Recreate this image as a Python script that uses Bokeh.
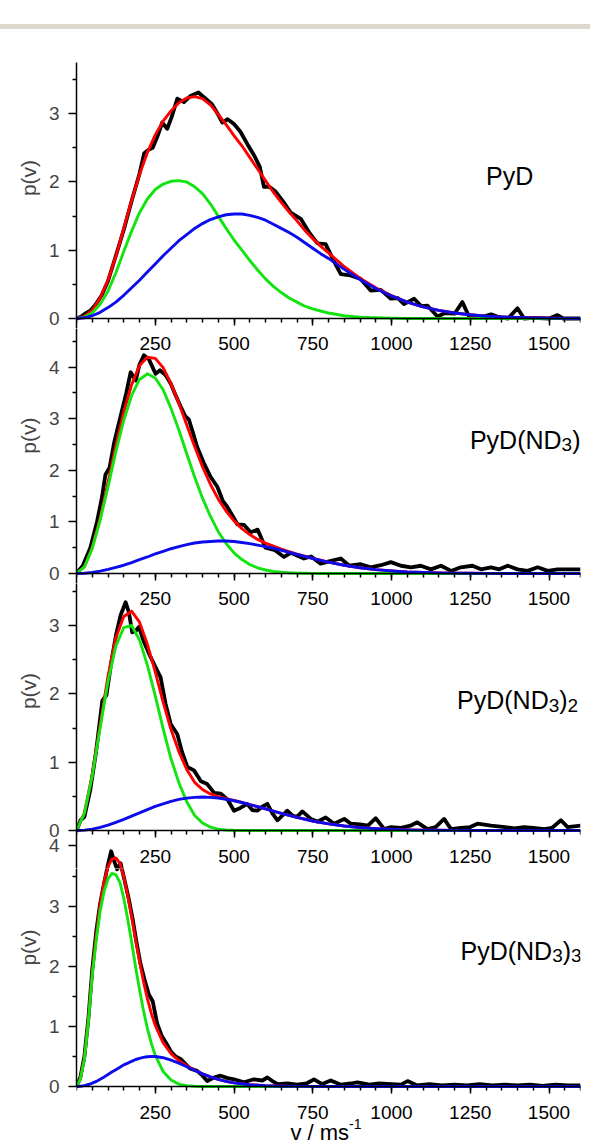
from bokeh.plotting import figure
from bokeh.models import Range1d, FixedTicker, LinearAxis, Label, Div
from bokeh.layouts import column
from bokeh.embed import file_html
from bokeh.resources import INLINE

FONT = "Liberation Sans"
BLACK = "#000000"
RED = "#ff0000"
GREEN = "#12e412"
BLUE = "#0b0bee"

# ---------------- tick values / labels ----------------
X_MAJOR = [250, 500, 750, 1000, 1250, 1500]
X_MINOR = [0, 50, 100, 150, 200, 250, 300, 350, 400, 450, 500, 550, 600, 650, 700, 750, 800,
           850, 900, 950, 1000, 1050, 1100, 1150, 1200, 1250, 1300, 1350, 1400, 1450, 1500, 1550, 1600]
Y_MAJOR = [[0, 1, 2, 3], [0, 1, 2, 3, 4], [0, 1, 2, 3], [0, 1, 2, 3]]
Y_MINOR = [[0.5, 1.5, 2.5, 3.5], [0.5, 1.5, 2.5, 3.5, 4.5], [0.5, 1.5, 2.5, 3.5], [0.5, 1.5, 2.5, 3.5]]
TOP4_LABEL = "4"          # the "4" of the last panel, printed in the strip of the panel above it
NAME_PARTS = [
    [("PyD", False)],
    [("PyD(ND", False), ("3", True), (")", False)],
    [("PyD(ND", False), ("3", True), (")", False), ("2", True)],
    [("PyD(ND", False), ("3", True), (")", False), ("3", True)],
]
X_TITLE = [("v / ms", False), ("-1", True)]
Y_TITLE = "p(v)"

# ---------------- panel 1 : PyD ----------------
fv1 = [0, 25, 50, 75, 100, 125, 150, 175, 200, 225, 250, 275, 300, 325, 350, 375, 400,
       425, 450, 475, 500, 525, 550, 575, 600, 625, 650, 675, 700, 725, 750, 775, 800,
       850, 900, 950, 1000, 1050, 1100, 1150, 1200, 1250, 1300, 1350, 1400, 1450, 1500, 1550, 1600]
green1 = [0, 0.02, 0.08, 0.21, 0.40, 0.67, 0.98, 1.28, 1.55, 1.75, 1.89, 1.97, 2.01, 2.02, 2.00, 1.93, 1.83,
          1.68, 1.50, 1.32, 1.15, 1.00, 0.85, 0.71, 0.58, 0.47, 0.38, 0.30, 0.24, 0.18, 0.14, 0.11, 0.08,
          0.04, 0.02, 0.01, 0.005, 0, 0, 0, 0, 0, 0, 0, 0, 0, 0, 0, 0]
blue1 = [0, 0.01, 0.04, 0.09, 0.16, 0.24, 0.34, 0.45, 0.56, 0.68, 0.80, 0.92, 1.03, 1.14, 1.23, 1.32, 1.39,
         1.45, 1.49, 1.52, 1.53, 1.53, 1.51, 1.48, 1.44, 1.38, 1.32, 1.26, 1.19, 1.11, 1.03, 0.95, 0.88,
         0.72, 0.57, 0.44, 0.33, 0.24, 0.17, 0.12, 0.08, 0.055, 0.035, 0.024, 0.015, 0.009, 0.005, 0.002, 0]
red1 = [0, 0.03, 0.12, 0.30, 0.56, 0.91, 1.32, 1.73, 2.11, 2.43, 2.69, 2.89, 3.04, 3.16, 3.23, 3.25, 3.22,
        3.13, 2.99, 2.84, 2.68, 2.53, 2.36, 2.19, 2.02, 1.85, 1.70, 1.56, 1.43, 1.29, 1.17, 1.06, 0.96,
        0.76, 0.59, 0.45, 0.335, 0.24, 0.17, 0.12, 0.08, 0.055, 0.035, 0.024, 0.015, 0.009, 0.005, 0.002, 0]
bx1 = [0, 15, 30, 45, 60, 80, 100, 125, 150, 175,
       200, 215, 228, 242, 258, 272, 288, 302, 320, 341,
       362, 387, 410, 430, 448, 463, 480, 500, 520, 543,
       565, 582, 595, 612, 632, 655, 680, 712, 740, 765,
       791, 815, 839, 870, 902, 934, 966, 998, 1020, 1040,
       1072, 1095, 1114, 1146, 1170, 1200, 1225, 1245, 1270, 1300,
       1316, 1340, 1370, 1400, 1421, 1450, 1500, 1527, 1545, 1600]
by1 = [0.0, 0.03, 0.08, 0.12, 0.20, 0.34, 0.55, 0.92, 1.30, 1.72,
       2.12, 2.42, 2.47, 2.50, 2.68, 2.87, 2.78, 2.95, 3.22, 3.17,
       3.26, 3.31, 3.22, 3.14, 3.00, 2.87, 2.92, 2.85, 2.74, 2.55,
       2.38, 2.22, 1.93, 1.93, 1.86, 1.72, 1.55, 1.46, 1.25, 1.10,
       1.09, 0.86, 0.65, 0.63, 0.58, 0.41, 0.42, 0.29, 0.30, 0.21,
       0.29, 0.18, 0.19, 0.03, 0.08, 0.07, 0.24, 0.04, 0.01, 0.04,
       0.06, 0.02, 0.0, 0.15, 0.0, 0.01, 0.0, 0.05, 0.0, 0.0]

# ---------------- panel 2 : PyD(ND3) ----------------
fv2 = fv1
green2 = [0, 0.126, 0.486, 1.03, 1.68, 2.36, 2.97, 3.45, 3.76, 3.87, 3.79, 3.56, 3.20, 2.78, 2.32, 1.87, 1.46,
          1.11, 0.81, 0.58, 0.40, 0.27, 0.174, 0.11, 0.068, 0.04, 0.024, 0.013, 0.007, 0.004, 0.002, 0.001, 0,
          0, 0, 0, 0, 0, 0, 0, 0, 0, 0, 0, 0, 0, 0, 0, 0]
blue2 = [0, 0.005, 0.02, 0.045, 0.08, 0.12, 0.16, 0.21, 0.27, 0.32, 0.38, 0.43, 0.48, 0.52, 0.56, 0.59, 0.61,
         0.62, 0.63, 0.63, 0.62, 0.60, 0.58, 0.55, 0.52, 0.49, 0.45, 0.41, 0.37, 0.33, 0.29, 0.255, 0.22,
         0.16, 0.11, 0.075, 0.05, 0.03, 0.02, 0.012, 0.007, 0.004, 0.002, 0.001, 0, 0, 0, 0, 0]
red2 = [0, 0.131, 0.506, 1.075, 1.76, 2.48, 3.13, 3.66, 4.03, 4.19, 4.17, 3.99, 3.68, 3.30, 2.88, 2.46, 2.07,
        1.73, 1.44, 1.21, 1.02, 0.87, 0.754, 0.66, 0.588, 0.53, 0.474, 0.423, 0.377, 0.334, 0.292, 0.256, 0.22,
        0.16, 0.11, 0.075, 0.05, 0.03, 0.02, 0.012, 0.007, 0.004, 0.002, 0.001, 0, 0, 0, 0, 0]
bx2 = [0, 20, 44, 65, 80, 92, 105, 120, 140, 158,
       172, 188, 200, 214, 230, 251, 265, 282, 299, 315,
       331, 345, 357, 370, 383, 405, 426, 447, 465, 479,
       500, 511, 532, 553, 575, 600, 630, 659, 680, 700,
       722, 745, 775, 805, 839, 866, 902, 934, 966, 998,
       1030, 1062, 1093, 1125, 1157, 1189, 1220, 1257, 1284, 1316,
       1342, 1369, 1400, 1432, 1464, 1496, 1527, 1559, 1600]
by2 = [0.0, 0.15, 0.50, 1.00, 1.45, 1.92, 2.05, 2.55, 3.05, 3.50,
       3.90, 3.74, 4.05, 4.23, 4.15, 3.87, 3.94, 3.85, 3.68, 3.45,
       3.23, 3.05, 2.98, 2.72, 2.45, 2.13, 1.87, 1.68, 1.40, 1.29,
       1.07, 0.95, 0.94, 0.80, 0.85, 0.50, 0.45, 0.32, 0.40, 0.35,
       0.29, 0.33, 0.19, 0.24, 0.29, 0.15, 0.18, 0.12, 0.16, 0.22,
       0.15, 0.12, 0.15, 0.08, 0.15, 0.05, 0.12, 0.15, 0.08, 0.12,
       0.08, 0.15, 0.08, 0.05, 0.12, 0.05, 0.08, 0.08, 0.08]

# ---------------- panel 3 : PyD(ND3)2 ----------------
fv3 = [0, 25, 50, 75, 100, 125, 150, 175, 200, 225, 250, 275, 300, 325, 350, 375, 400, 425, 450, 475,
       500, 525, 550, 575, 600,
       650, 700, 750, 800, 850, 900, 950, 1000, 1050, 1100, 1150, 1200, 1250, 1300, 1350, 1400, 1450,
       1500, 1550, 1600]
green3 = [0, 0.25, 0.80, 1.50, 2.18, 2.70, 2.97, 3.00, 2.79, 2.42, 1.97, 1.49, 1.05, 0.70, 0.42, 0.22, 0.11,
          0.05, 0.02, 0.008, 0.003, 0.001, 0, 0, 0,
          0, 0, 0, 0, 0, 0, 0, 0, 0, 0, 0, 0, 0, 0, 0, 0, 0, 0, 0, 0]
blue3 = [0, 0.005, 0.02, 0.045, 0.078, 0.12, 0.163, 0.21, 0.259, 0.305, 0.352, 0.39, 0.427, 0.455, 0.474,
         0.485, 0.49, 0.485, 0.475, 0.457, 0.436, 0.41, 0.38, 0.35, 0.316,
         0.251, 0.191, 0.139, 0.098, 0.066, 0.043, 0.027, 0.016, 0.009, 0.005, 0.003, 0.0013, 0.0006, 0,
         0, 0, 0, 0, 0, 0]
red3 = [0, 0.255, 0.82, 1.545, 2.258, 2.82, 3.133, 3.21, 3.049, 2.725, 2.322, 1.88, 1.477, 1.155, 0.894,
        0.705, 0.60, 0.535, 0.495, 0.465, 0.439, 0.411, 0.38, 0.35, 0.316,
        0.251, 0.191, 0.139, 0.098, 0.066, 0.043, 0.027, 0.016, 0.009, 0.005, 0.003, 0.0013, 0.0006, 0,
        0, 0, 0, 0, 0, 0]
bx3 = [0, 13, 25, 44, 62, 82, 95, 110, 125, 140,
       156, 166, 177, 188, 198, 215, 235, 250, 267, 283,
       299, 320, 335, 352, 373, 395, 415, 437, 458, 480,
       500, 520, 542, 558, 574, 590, 606, 622, 638, 654,
       669, 685, 700, 717, 744, 765, 791, 818, 850, 871,
       900, 925, 950, 977, 998, 1030, 1060, 1082, 1114, 1140,
       1167, 1189, 1220, 1250, 1273, 1316, 1360, 1390, 1421, 1450,
       1485, 1510, 1538, 1559, 1600]
by3 = [0.0, 0.15, 0.20, 0.60, 1.15, 1.90, 1.98, 2.45, 2.85, 3.15,
       3.34, 3.20, 2.90, 2.92, 2.98, 2.75, 2.54, 2.40, 2.24, 1.85,
       1.56, 1.41, 1.15, 0.93, 0.88, 0.72, 0.68, 0.55, 0.54, 0.45,
       0.29, 0.33, 0.39, 0.30, 0.29, 0.35, 0.39, 0.25, 0.15, 0.22,
       0.29, 0.22, 0.20, 0.28, 0.17, 0.13, 0.19, 0.10, 0.17, 0.10,
       0.09, 0.07, 0.18, 0.02, 0.05, 0.04, 0.07, 0.12, 0.02, 0.05,
       0.17, 0.02, 0.04, 0.05, 0.10, 0.07, 0.05, 0.03, 0.05, 0.04,
       0.02, 0.04, 0.15, 0.05, 0.07]

# ---------------- panel 4 : PyD(ND3)3 ----------------
fv4 = [0, 12, 25, 38, 50, 63, 75, 88, 100, 112, 125, 138, 150, 163, 175, 188, 200, 212, 225, 238,
       250, 275, 300, 325, 350, 375, 400, 425, 450, 475, 500, 550, 600, 650, 700, 800, 900, 1000,
       1200, 1400, 1600]
green4 = [0, 0.12, 0.45, 1.10, 1.85, 2.45, 2.92, 3.26, 3.46, 3.55, 3.53, 3.40, 3.14, 2.78, 2.41, 1.98,
          1.62, 1.28, 0.97, 0.71, 0.52, 0.25, 0.107, 0.04, 0.015, 0.005, 0, 0, 0, 0, 0, 0, 0, 0, 0, 0,
          0, 0, 0, 0, 0]
blue4 = [0, 0.004, 0.015, 0.033, 0.055, 0.085, 0.12, 0.16, 0.20, 0.24, 0.28, 0.32, 0.36, 0.39, 0.42,
         0.45, 0.47, 0.485, 0.495, 0.50, 0.50, 0.48, 0.44, 0.39, 0.33, 0.27, 0.21, 0.16, 0.12, 0.085,
         0.06, 0.03, 0.012, 0.005, 0.002, 0, 0, 0, 0, 0, 0]
red4 = [0, 0.124, 0.465, 1.133, 1.905, 2.535, 3.04, 3.42, 3.66, 3.79, 3.81, 3.72, 3.50, 3.17, 2.83,
        2.43, 2.09, 1.765, 1.465, 1.21, 1.02, 0.73, 0.547, 0.43, 0.345, 0.275, 0.21, 0.16, 0.12, 0.085,
        0.06, 0.03, 0.012, 0.005, 0.002, 0, 0, 0, 0, 0, 0]
bx4 = [0, 12, 25, 38, 50, 63, 75, 88, 100, 110,
       120, 129, 140, 152, 165, 178, 190, 203, 215, 230,
       242, 256, 270, 285, 300, 315, 330, 345, 360, 383,
       400, 415, 436, 457, 480, 500, 532, 563, 590, 606,
       625, 638, 669, 700, 730, 754, 780, 807, 840, 870,
       892, 930, 960, 1000, 1030, 1051, 1080, 1120, 1160, 1200,
       1240, 1280, 1320, 1360, 1400, 1440, 1480, 1520, 1560, 1600]
by4 = [0.0, 0.15, 0.50, 1.15, 1.95, 2.60, 3.05, 3.40, 3.70, 3.92,
       3.75, 3.62, 3.72, 3.45, 3.15, 2.80, 2.42, 2.05, 1.80, 1.53,
       1.42, 1.05, 0.85, 0.72, 0.58, 0.50, 0.46, 0.38, 0.30, 0.26,
       0.18, 0.09, 0.15, 0.18, 0.14, 0.12, 0.07, 0.12, 0.10, 0.15,
       0.08, 0.04, 0.05, 0.03, 0.05, 0.12, 0.04, 0.10, 0.03, 0.05,
       0.07, 0.03, 0.05, 0.04, 0.03, 0.09, 0.02, 0.04, 0.02, 0.03,
       0.02, 0.04, 0.02, 0.03, 0.02, 0.03, 0.01, 0.03, 0.02, 0.02]

PANELS = [
    (fv1, green1, blue1, red1, bx1, by1),
    (fv2, green2, blue2, red2, bx2, by2),
    (fv3, green3, blue3, red3, bx3, by3),
    (fv4, green4, blue4, red4, bx4, by4),
]
# panel name anchor (data coords: left edge / baseline)
NAME_POS = [(1300, 2.09), (1249, 2.59), (1208, 1.91), (1219, 2.26)]

# ---------------- layout geometry (pixels) ----------------
Y_RANGES = [(-0.1465, 3.75), (-0.194, 4.748), (-0.556, 3.615), (-0.1667, 3.6333)]
P4_IN_P3 = (3.6333, 8.3833)         # panel-4 units over panel 3's frame (same 60 px per unit)
FRAME_H = [266, 255, 285, 228]
TOP_B = [33, 0, 0, 0]
TOP4_POS = -0.2195                  # where the "4" of panel 4 sits, in panel-3 units
PV_PAD = [6, 7, 12, 12]             # no-break spaces that lift "p(v)" as in the original
TITLE_H = 49
TITLE_BASE = -36                    # px below the strip top

TICK_FS = "19px"
MAIN_FS = 25
SUB_FS = 19
CHAR_W = {'P': 0.667, 'y': 0.5, 'D': 0.722, '(': 0.333, 'N': 0.722, ')': 0.333, '2': 0.556,
          '3': 0.556, 'v': 0.5, ' ': 0.278, '/': 0.278, 'm': 0.833, 's': 0.5, '-': 0.333, '1': 0.556}


def text_width(txt, size):
    return sum(CHAR_W.get(c, 0.55) for c in txt) * size


def add_rich(p, x, y, parts, main, sub, sub_dy):
    off = 0.0
    for txt, is_sub in parts:
        size = sub if is_sub else main
        p.add_layout(Label(x=x, y=y, x_offset=off, y_offset=(sub_dy if is_sub else 0), text=txt,
                           text_font=FONT, text_font_size=f"{size}px", text_color=BLACK,
                           text_align="left", text_baseline="alphabetic"))
        off += text_width(txt, size)


def style_x(ax, ticks=True, labels=True, line=True, tick_out=7, minor_out=4, standoff=7):
    ax.axis_line_width = 1.5
    ax.axis_line_color = BLACK if line else None
    ax.major_tick_line_width = 1.5
    ax.minor_tick_line_width = 1.5
    ax.major_tick_line_color = BLACK if ticks else None
    ax.minor_tick_line_color = BLACK if ticks else None
    ax.major_tick_in = 0
    ax.minor_tick_in = 0
    ax.major_tick_out = tick_out
    ax.minor_tick_out = minor_out
    ax.major_label_standoff = standoff
    ax.major_label_text_font = FONT
    ax.major_label_text_font_size = TICK_FS
    ax.major_label_text_color = BLACK
    ax.ticker = FixedTicker(ticks=X_MAJOR, minor_ticks=X_MINOR)
    if not labels:
        ax.major_label_overrides = {t: "" for t in X_MAJOR}


def draw_curves(p, data, **kw):
    fv, g, b, r, bx, by = data
    p.line(bx, by, line_color=BLACK, line_width=3.8, line_join="round", **kw)
    p.line(fv, r, line_color=RED, line_width=2.9, line_join="round", **kw)
    p.line(fv, g, line_color=GREEN, line_width=2.9, line_join="round", **kw)
    p.line(fv, b, line_color=BLUE, line_width=2.9, line_join="round", **kw)


figs = []
for i in range(4):
    y0, y1 = Y_RANGES[i]
    p = figure(width=590, height=FRAME_H[i] + TOP_B[i],
               x_range=Range1d(0, 1600), y_range=Range1d(y0, y1),
               output_backend="svg", toolbar_location=None,
               min_border_left=76, min_border_right=10,
               min_border_top=TOP_B[i], min_border_bottom=0)
    p.outline_line_color = None
    p.grid.visible = False
    p.background_fill_color = "white"
    p.border_fill_color = "white"

    # x axis line at y = 0 with outward ticks (inside a strip under the zero line)
    xa = p.xaxis[0]
    xa.fixed_location = 0
    style_x(xa, ticks=True, labels=(i == 2), standoff=12)

    # tick labels of the panel above, printed just under this panel's top edge
    if i in (1, 2):
        ta = LinearAxis(fixed_location=y1)
        style_x(ta, ticks=False, labels=True, line=False, tick_out=0, minor_out=0, standoff=8)
        p.add_layout(ta, "below")

    ya = p.yaxis[0]
    majors = list(Y_MAJOR[i])
    if i == 2:
        majors = [TOP4_POS] + majors
        ya.major_label_overrides = {TOP4_POS: TOP4_LABEL}
    ya.ticker = FixedTicker(ticks=majors, minor_ticks=Y_MINOR[i])
    if i == 3:
        ya.bounds = (0, y1)
    ya.axis_line_width = 1.5
    ya.major_tick_line_width = 1.5
    ya.minor_tick_line_width = 1.5
    ya.major_tick_in = 0
    ya.minor_tick_in = 0
    ya.major_tick_out = 8
    ya.minor_tick_out = 4
    ya.major_label_standoff = 9
    ya.major_label_text_font = FONT
    ya.major_label_text_font_size = TICK_FS
    ya.axis_label = "\u00a0" * PV_PAD[i] + Y_TITLE
    ya.axis_label_text_font = FONT
    ya.axis_label_text_font_size = "21px"
    ya.axis_label_text_font_style = "normal"
    ya.axis_label_standoff = 6

    draw_curves(p, PANELS[i])
    if i == 2:
        # the top of the last panel's peak reaches into this panel's lower strip
        p.extra_y_ranges = {"p4": Range1d(*P4_IN_P3)}
        draw_curves(p, PANELS[3], y_range_name="p4")

    nx, ny = NAME_POS[i]
    add_rich(p, nx, ny, NAME_PARTS[i], MAIN_FS, SUB_FS, -5)
    figs.append(p)

# strip under the last panel: its tick labels and the axis title
pt = figure(width=590, height=TITLE_H, x_range=Range1d(0, 1600), y_range=Range1d(-TITLE_H, 0),
            output_backend="svg", toolbar_location=None, y_axis_location=None,
            min_border_left=76, min_border_right=10, min_border_top=0, min_border_bottom=0)
pt.outline_line_color = None
pt.grid.visible = False
pt.border_fill_color = "white"
xt = pt.xaxis[0]
xt.fixed_location = 0
style_x(xt, ticks=False, labels=True, line=False, tick_out=0, minor_out=0, standoff=9)
add_rich(pt, 679, TITLE_BASE, X_TITLE, 22, 14, 9)
figs.append(pt)

band = Div(text="", width=590, height=5, margin=(24, 0, 0, 0),
           styles={"background-color": "#dddacd"})

layout = column(band, *figs, spacing=0)
open("out.html", "w").write(file_html(layout, INLINE))
